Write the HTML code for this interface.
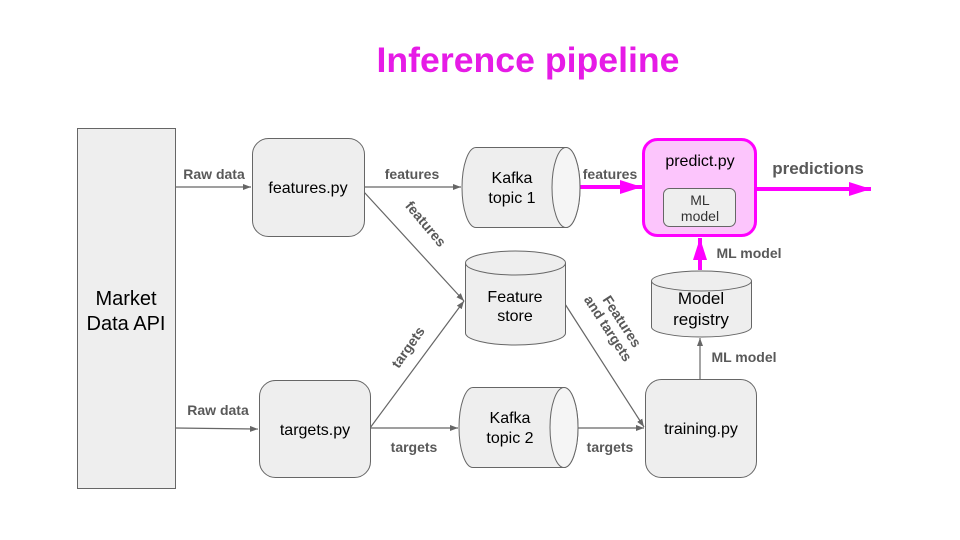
<!DOCTYPE html>
<html><head><meta charset="utf-8"><style>
html,body{margin:0;padding:0;background:#fff;}
svg{display:block;font-family:"Liberation Sans",sans-serif;}
.b{font-weight:bold;fill:#595959;font-size:14px;}
.n{fill:#000;font-size:16px;text-anchor:middle;}
</style></head><body>
<svg width="960" height="540" viewBox="0 0 960 540">
<defs>
<marker id="ag" markerWidth="8" markerHeight="6" refX="8" refY="3" orient="auto" markerUnits="userSpaceOnUse"><path d="M0,0L8,3L0,6z" fill="#666"/></marker>
<marker id="am" markerWidth="22" markerHeight="14" refX="22" refY="7" orient="auto" markerUnits="userSpaceOnUse"><path d="M0,0L22,7L0,14z" fill="#f0f"/></marker>
</defs>
<text x="528" y="72" text-anchor="middle" font-size="35" font-weight="bold" fill="#e61be6" textLength="303" lengthAdjust="spacingAndGlyphs">Inference pipeline</text>

<rect x="77.5" y="128.5" width="98" height="360" fill="#eeeeee" stroke="#666"/>
<text class="n" x="126" y="305" style="font-size:20px">Market</text>
<text class="n" x="126" y="330" style="font-size:20px">Data API</text>

<g stroke="#666" stroke-width="1.2" fill="none">
<line x1="175" y1="187" x2="251" y2="187" marker-end="url(#ag)"/>
<line x1="175" y1="428" x2="258" y2="429" marker-end="url(#ag)"/>
<line x1="364" y1="187" x2="461" y2="187" marker-end="url(#ag)"/>
<line x1="364" y1="192" x2="464" y2="301" marker-end="url(#ag)"/>
<line x1="370" y1="428" x2="464" y2="301" marker-end="url(#ag)"/>
<line x1="370" y1="428" x2="458" y2="428" marker-end="url(#ag)"/>
<line x1="578" y1="428" x2="644" y2="428" marker-end="url(#ag)"/>
<line x1="565" y1="304" x2="644" y2="427" marker-end="url(#ag)"/>
<line x1="700" y1="379" x2="700" y2="338" marker-end="url(#ag)"/>
</g>
<g stroke="#f0f" stroke-width="4" fill="none">
<line x1="580" y1="187" x2="642" y2="187" marker-end="url(#am)"/>
<line x1="756" y1="189" x2="871" y2="189" marker-end="url(#am)"/>
<line x1="700" y1="270" x2="700" y2="238" marker-end="url(#am)"/>
</g>

<rect x="252.5" y="138.5" width="112" height="98" rx="16" fill="#eeeeee" stroke="#666"/>
<text class="n" x="308" y="193">features.py</text>
<rect x="259.5" y="380.5" width="111" height="97" rx="16" fill="#eeeeee" stroke="#666"/>
<text class="n" x="315" y="435">targets.py</text>

<path d="M476,147.5 H566 A14,40 0 0 1 566,227.5 H476 A14,40 0 0 1 476,147.5z" fill="#eeeeee" stroke="#666"/>
<ellipse cx="566" cy="187.5" rx="14" ry="40" fill="#f5f5f5" stroke="#666"/>
<text class="n" x="512" y="183">Kafka</text>
<text class="n" x="512" y="203">topic 1</text>
<path d="M473,387.5 H564 A14,40 0 0 1 564,467.5 H473 A14,40 0 0 1 473,387.5z" fill="#eeeeee" stroke="#666"/>
<ellipse cx="564" cy="427.5" rx="14" ry="40" fill="#f5f5f5" stroke="#666"/>
<text class="n" x="510" y="423">Kafka</text>
<text class="n" x="510" y="443">topic 2</text>

<path d="M465.5,263 V333 A50,12 0 0 0 565.5,333 V263" fill="#eeeeee" stroke="#666"/>
<ellipse cx="515.5" cy="263" rx="50" ry="12" fill="#eeeeee" stroke="#666"/>
<text class="n" x="515" y="302">Feature</text>
<text class="n" x="515" y="321">store</text>

<path d="M651.5,281 V327 A50,10 0 0 0 751.5,327 V281" fill="#eeeeee" stroke="#666"/>
<ellipse cx="701.5" cy="281" rx="50" ry="10" fill="#eeeeee" stroke="#666"/>
<text class="n" x="701" y="304" style="font-size:17px">Model</text>
<text class="n" x="701" y="325" style="font-size:17px">registry</text>

<rect x="643.5" y="139.5" width="112" height="96" rx="14" fill="#fcc5fc" stroke="#f0f" stroke-width="3"/>
<text class="n" x="700" y="166" fill="#333">predict.py</text>
<rect x="663.5" y="188.5" width="72" height="38" rx="6" fill="#eeeeee" stroke="#666"/>
<text class="n" x="700" y="205" style="font-size:14px;fill:#333">ML</text>
<text class="n" x="700" y="221" style="font-size:14px;fill:#333">model</text>

<rect x="645.5" y="379.5" width="111" height="98" rx="16" fill="#eeeeee" stroke="#666"/>
<text class="n" x="701" y="434">training.py</text>

<text class="b" x="214" y="179" text-anchor="middle">Raw data</text>
<text class="b" x="218" y="415" text-anchor="middle">Raw data</text>
<text class="b" x="412" y="179" text-anchor="middle">features</text>
<text class="b" x="610" y="179" text-anchor="middle">features</text>
<text class="b" x="414" y="452" text-anchor="middle">targets</text>
<text class="b" x="610" y="452" text-anchor="middle">targets</text>
<text class="b" x="818" y="174" text-anchor="middle" style="font-size:17px">predictions</text>
<text class="b" x="749" y="258" text-anchor="middle">ML model</text>
<text class="b" x="744" y="362" text-anchor="middle">ML model</text>
<text class="b" text-anchor="middle" transform="translate(422,227) rotate(50)">features</text>
<text class="b" text-anchor="middle" transform="translate(412,350) rotate(-55)">targets</text>
<text class="b" text-anchor="middle" transform="translate(618,324) rotate(57)">Features</text>
<text class="b" text-anchor="middle" transform="translate(604,331) rotate(57)">and targets</text>
</svg>
</body></html>
